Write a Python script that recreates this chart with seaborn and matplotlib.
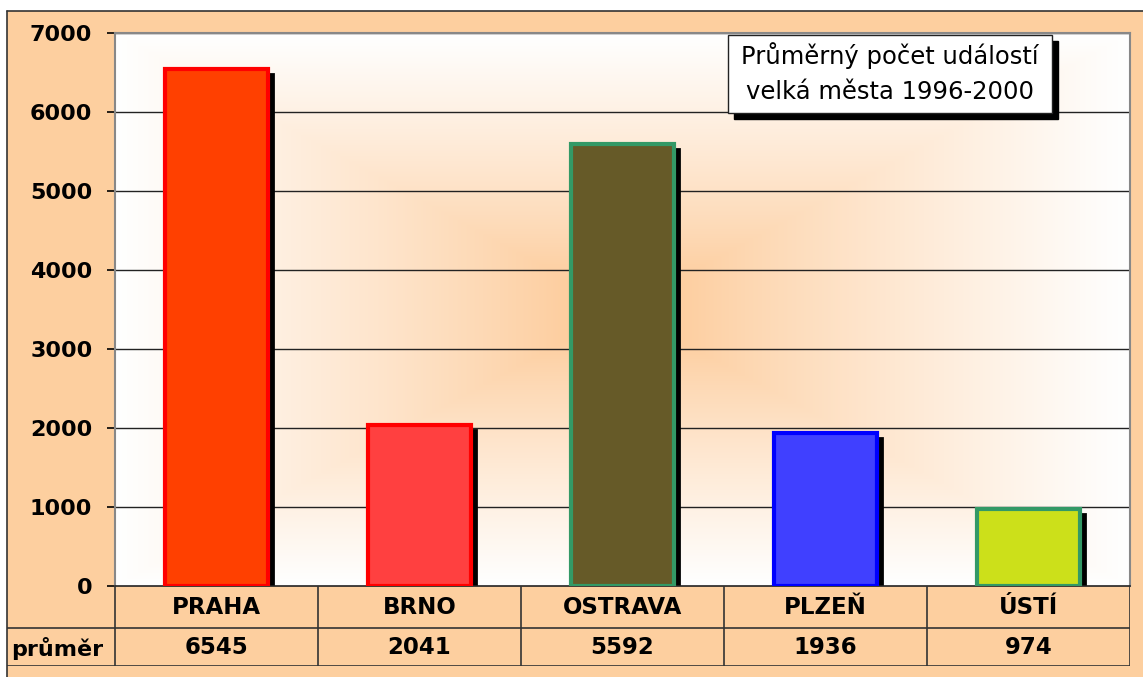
import numpy as np
import pandas as pd
import matplotlib
matplotlib.use("Agg")
import matplotlib.pyplot as plt
import matplotlib.transforms as mtransforms
from matplotlib.patches import Rectangle
from matplotlib.lines import Line2D
import seaborn as sns

# ---- data ----
categories = ["PRAHA", "BRNO", "OSTRAVA", "PLZEŇ", "ÚSTÍ"]
values = [6545, 2041, 5592, 1936, 974]
row_label = "průměr"
title_lines = ["Průměrný počet událostí", "velká města 1996-2000"]
yticks = [0, 1000, 2000, 3000, 4000, 5000, 6000, 7000]

face_colors = ["#FF4000", "#FF4040", "#665A28", "#4040FF", "#CCE01A"]
edge_colors = ["#FF0000", "#FF0000", "#339966", "#0000FF", "#339966"]

sns.set_theme(style="white")
plt.rcParams["font.family"] = ["DejaVu Sans"]

W, H = 1143, 677
DPI = 100
fig = plt.figure(figsize=(W / DPI, H / DPI), dpi=DPI)
fig.patch.set_facecolor("white")

PEACH = "#FDCF9F"

def fx(px):
    return px / W

def fy(py):
    return 1 - py / H

# outer chart area
fig.patches.append(Rectangle((fx(7), 0), 1 - fx(7), fy(11), transform=fig.transFigure,
                             facecolor=PEACH, edgecolor="none", zorder=-10))
fig.lines.append(Line2D([fx(7), 1], [fy(11), fy(11)], transform=fig.transFigure, color="#333333", lw=1.2, zorder=-9))
fig.lines.append(Line2D([fx(7), fx(7)], [0, fy(11)], transform=fig.transFigure, color="#333333", lw=1.2, zorder=-9))

# main axes
L, R, T, B = 115, 1130, 33, 586
ax = fig.add_axes([fx(L), fy(B), fx(R) - fx(L), fy(T) - fy(B)])
ax.set_xlim(-0.5, 4.5)
ax.set_ylim(0, 7000)

# gradient background (rectangular from center)
nx, ny = 400, 300
u = np.linspace(-1, 1, nx)
v = np.linspace(-1, 1, ny)
U, V = np.meshgrid(u, v)
t = np.maximum(np.abs(U), np.abs(V))
t = np.clip(t, 0, 1) ** 0.8
c0 = np.array([253, 196, 140]) / 255.0
c1 = np.array([255, 255, 255]) / 255.0
img = c0[None, None, :] * (1 - t[..., None]) + c1[None, None, :] * t[..., None]
ax.imshow(img, extent=[-0.5, 4.5, 0, 7000], aspect="auto", zorder=0, interpolation="bilinear")

df = pd.DataFrame({"city": categories, "value": values})
sns.barplot(data=df, x="city", y="value", hue="city", palette=face_colors, order=categories,
            hue_order=categories, width=0.51, legend=False, ax=ax, zorder=3, saturation=1)

shadow_off = mtransforms.ScaledTranslation(5 / DPI, -5 / DPI, fig.dpi_scale_trans)
for p, ec in zip(list(ax.patches), edge_colors):
    p.set_edgecolor(ec)
    p.set_linewidth(3)
    sh = Rectangle(p.get_xy(), p.get_width(), p.get_height(), facecolor="black", edgecolor="black",
                   lw=2, transform=ax.transData + shadow_off, zorder=2)
    ax.add_patch(sh)

ax.set_xlim(-0.5, 4.5)
ax.set_ylim(0, 7000)
ax.set_yticks(yticks)
ax.set_yticklabels([str(y) for y in yticks], fontsize=16, fontweight="bold", color="black")
ax.tick_params(axis="y", direction="out", length=5.8, width=1.2, color="black", pad=10.5, left=True)
ax.set_xticks([])
ax.set_xlabel("")
ax.set_ylabel("")
for yv in yticks[1:]:
    ax.axhline(yv, color="#222222", lw=1.0, zorder=1)
for s in ["top", "right", "left"]:
    ax.spines[s].set_color("#888888")
    ax.spines[s].set_linewidth(1.5)
ax.spines["bottom"].set_color("#222222")
ax.spines["bottom"].set_linewidth(1.2)

# title box
bx0, by0, bx1, by1 = 728, 35, 1052, 113
fig.patches.append(Rectangle((fx(bx0 + 6), fy(by1 + 6)), fx(bx1) - fx(bx0), fy(by0) - fy(by1),
                             transform=fig.transFigure, facecolor="black", edgecolor="black", zorder=5))
fig.patches.append(Rectangle((fx(bx0), fy(by1)), fx(bx1) - fx(bx0), fy(by0) - fy(by1),
                             transform=fig.transFigure, facecolor="white", edgecolor="#222222", lw=1, zorder=6))
fig.text(fx((bx0 + bx1) / 2), fy(56), title_lines[0], ha="center", va="center", fontsize=17.5,
         color="black", zorder=7)
fig.text(fx((bx0 + bx1) / 2), fy(92), title_lines[1], ha="center", va="center", fontsize=17.5,
         color="black", zorder=7)

# data table
TL, TT, TB = 7, 586, 666
tax = fig.add_axes([fx(TL), fy(TB), fx(R) - fx(TL), fy(TT) - fy(TB)])
left_data = -0.5 - (L - TL) / ((R - L) / 5)
tax.set_xlim(left_data, 4.5)
tax.set_ylim(TB - TT, 0)
tax.axis("off")
tax.patch.set_alpha(0)
row_split = 628 - TT
lc = "#333333"
tax.plot([left_data, 4.5], [row_split, row_split], color=lc, lw=1.2)
tax.plot([left_data, 4.5], [TB - TT, TB - TT], color=lc, lw=1.2)
for xb in np.arange(-0.5, 5.0, 1.0):
    tax.plot([xb, xb], [0, TB - TT], color=lc, lw=1.2)
for i, (cat, val) in enumerate(zip(categories, values)):
    tax.text(i, row_split / 2 + 1, cat, ha="center", va="center", fontsize=16.5, fontweight="bold", color="black")
    tax.text(i, (row_split + TB - TT) / 2 + 1, str(val), ha="center", va="center", fontsize=16.5,
             fontweight="bold", color="black")
tax.text(left_data + 0.02, (row_split + TB - TT) / 2 + 1, row_label, ha="left", va="center",
         fontsize=16, fontweight="bold", color="black")

fig.savefig("out.png", dpi=DPI, facecolor=fig.get_facecolor())
